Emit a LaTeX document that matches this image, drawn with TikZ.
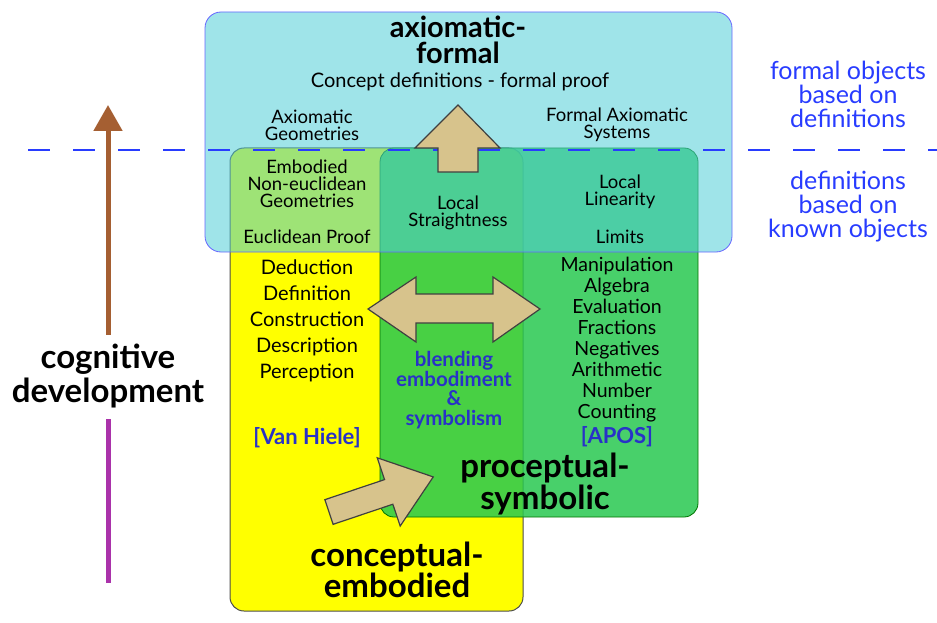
\documentclass[tikz,border=0pt]{standalone}
\usepackage{fontspec}
\setmainfont{Lato}
\usetikzlibrary{arrows.meta, positioning}
\definecolor{cyanbox}{RGB}{80,205,215}
\definecolor{yellowbox}{RGB}{255,255,0}
\definecolor{greenbox}{RGB}{40,200,80}
\definecolor{tanarrow}{RGB}{215,195,140}
\definecolor{darkblue}{RGB}{40,50,200}
\definecolor{lineblue}{RGB}{40,60,255}
\definecolor{devbrown}{RGB}{165,95,50}
\definecolor{devpurple}{RGB}{170,50,170}

\begin{document}
\begin{tikzpicture}[x=1pt, y=-1pt,
    txt/.style={font=\fontsize{18.5}{17}\selectfont, align=center, inner sep=1pt},
    listtxt/.style={font=\fontsize{20}{26}\selectfont, align=center, inner sep=1pt},
    symtxt/.style={font=\fontsize{19.5}{21}\selectfont, align=center, inner sep=1pt},
    title/.style={font=\fontsize{29}{26}\selectfont\bfseries, align=center, inner sep=1pt},
    bigtitle/.style={font=\fontsize{33}{28}\selectfont\bfseries, align=center, inner sep=1pt},
    bluetxt/.style={font=\fontsize{20.5}{19.5}\selectfont\bfseries, text=darkblue, align=center, inner sep=1pt},
    sidetxt/.style={font=\fontsize{25}{24}\selectfont, text=lineblue, align=center, inner sep=1pt},
    blockarrow/.style={fill=tanarrow, draw=black!75, line width=1.2pt, line join=miter}]
  \useasboundingbox (0,0) rectangle (937,623);

  % the three worlds
  \draw[rounded corners=14, fill=yellowbox, draw=black!70, line width=1pt] (230,148) rectangle (523,611);
  \draw[rounded corners=14, fill=greenbox, fill opacity=0.85, draw=green!45!black, line width=0.8pt] (380,148) rectangle (698,517);
  \draw[rounded corners=16, fill=cyanbox, fill opacity=0.55, draw=blue!60, line width=0.8pt] (205,12) rectangle (732,252);
  \draw[lineblue, line width=2.6pt, dash pattern=on 22pt off 23pt] (28,150) -- (937,150);

  % axiomatic-formal
  \node[title] (formal) at (458,40) {axiomatic-\\formal};
  \node[txt, font=\fontsize{20}{17}\selectfont] (proof) at (460,82) {Concept definitions - formal proof};
  \node[txt] (axgeo) at (312,125) {Axiomatic\\Geometries};
  \node[txt] (axsys) at (617,125) {Formal Axiomatic\\Systems};
  \node[txt] (noneuc) at (307,184) {Embodied\\Non-euclidean\\Geometries};
  \node[txt] (euclid) at (307,237) {Euclidean Proof};
  \node[txt] (straight) at (458,213) {Local\\Straightness};
  \node[txt] (linear) at (620,192) {Local\\Linearity};
  \node[txt] (limits) at (620,237) {Limits};

  % conceptual-embodied
  \node[listtxt] (vanlist) at (307,321) {Deduction\\Definition\\Construction\\Description\\Perception};
  \node[bluetxt, font=\fontsize{22}{19}\selectfont\bfseries] (vanhiele) at (307,438) {[Van Hiele]};
  \node[bigtitle] (embodied) at (397,570) {conceptual-\\embodied};

  % proceptual-symbolic
  \node[symtxt] (apolist) at (617,340) {Manipulation\\Algebra\\Evaluation\\Fractions\\Negatives\\Arithmetic\\Number\\Counting};
  \node[bluetxt, font=\fontsize{22}{19}\selectfont\bfseries] (apos) at (617,437) {[APOS]};
  \node[bigtitle] (symbolic) at (545,484) {proceptual-\\symbolic};
  \node[bluetxt] (blend) at (454,390) {blending\\embodiment\\\&\\symbolism};

  % block arrows
  \draw[blockarrow] (458,105) -- (500,148) -- (478,148) -- (478,172) -- (438,172)
    -- (438,148) -- (415,148) -- cycle;
  \draw[blockarrow] (368,309) -- (416,277) -- (416,294) -- (493,294) -- (493,277)
    -- (540,309) -- (493,342) -- (493,323) -- (416,323) -- (416,342) -- cycle;
  \begin{scope}[shift={(329,512)}, rotate=18.6]
    \draw[blockarrow] (0,-13) -- (63,-13) -- (63,-36) -- (110,0) -- (63,36)
      -- (63,13) -- (0,13) -- cycle;
  \end{scope}

  % cognitive development
  \node[bigtitle, font=\fontsize{33}{34}\selectfont\bfseries] (cog) at (108,376) {cognitive\\development};
  \coordinate (devtop) at (108,105);
  \coordinate (devbottom) at (108,583);
  \draw[devbrown, line width=5pt, shorten <=8pt, -{Triangle[length=26pt, width=28pt]}] (cog.north) -- (devtop);
  \draw[devpurple, line width=5pt, shorten <=10pt] (cog.south) -- (devbottom);

  % side notes
  \node[sidetxt] (above) at (848,94) {formal objects\\based on\\definitions};
  \node[sidetxt] (below) at (848,207) {definitions\\based on\\known objects};
\end{tikzpicture}
\end{document}
